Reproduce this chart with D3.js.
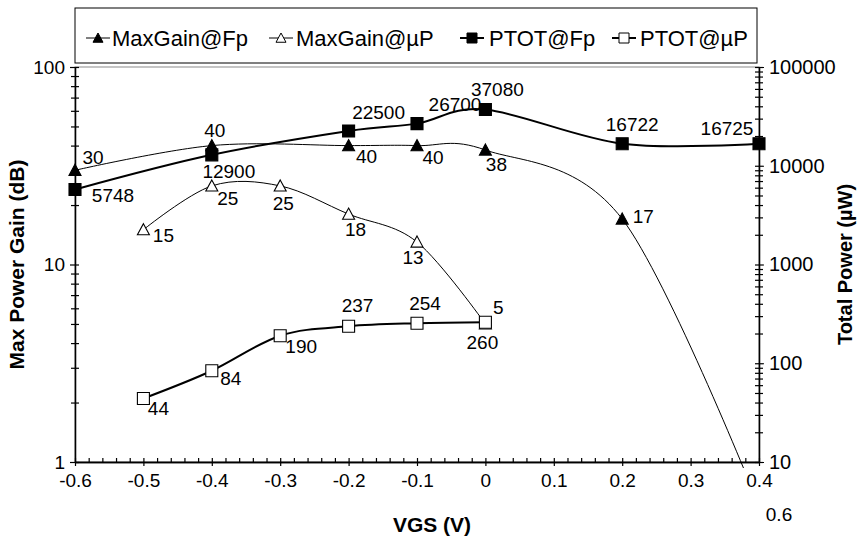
<!DOCTYPE html>
<html>
<head>
<meta charset="utf-8">
<script src="https://cdn.jsdelivr.net/npm/d3@7/dist/d3.min.js"></script>
<style>
  html, body { margin: 0; padding: 0; background: #fff; }
  svg text { font-family: "Liberation Sans", Arial, sans-serif; fill: #000; }
</style>
</head>
<body>
<svg id="chart" width="859" height="540"></svg>
<script>
// ---- data ----
const vgsFp = [-0.6, -0.4, -0.2, -0.1, 0, 0.2, 0.4];
const vgsUP = [-0.5, -0.4, -0.3, -0.2, -0.1, 0];
const maxGainFp = [30, 40, 40, 40, 38, 17, 0.6];
const maxGainUP = [15, 25, 25, 18, 13, 5];
const ptotFp = [5748, 12900, 22500, 26700, 37080, 16722, 16725];
const ptotUP = [44, 84, 190, 237, 254, 260];
const xTicks = [-0.6, -0.5, -0.4, -0.3, -0.2, -0.1, 0, 0.1, 0.2, 0.3, 0.4];
const yLeftTicks = [1, 10, 100];
const yRightTicks = [10, 100, 1000, 10000, 100000];
const seriesNames = ["MaxGain@Fp", "MaxGain@\u00b5P", "PTOT@Fp", "PTOT@\u00b5P"];

// ---- label offsets (dx, dy from each point) ----
const offGainFp = [[18,-13],[3,-15],[18,11],[16,12],[11,14],[21,-3],[20,9]];
const offGainUP = [[20,6],[16,12],[3,17],[7,15],[-4,15],[13,-17]];
const offPtotFp = [[38,6],[17,17],[30,-19],[38,-19],[12,-20],[10,-19],[-32,-15]];
const offPtotUP = [[15,10],[19,8],[21,11],[9,-21],[8,-20],[-3,20]];

// ---- layout ----
const L = 75, R = 759, T = 67, B = 462;
const svg = d3.select("#chart");

const x = d3.scaleLinear().domain([-0.6, 0.4]).range([L, R]);
const yL = d3.scaleLog().domain([1, 100]).range([B, T]);
const yR = d3.scaleLog().domain([10, 100000]).range([B, T]);

function minorLog(lo, hi) {
  const out = [];
  for (let d = lo; d < hi; d *= 10)
    for (let k = 2; k <= 9; k++) out.push(d * k);
  return out;
}

// plot area border
svg.append("rect").attr("x", L).attr("y", T).attr("width", R - L).attr("height", B - T)
  .attr("fill", "none").attr("stroke", "#8c8c8c").attr("stroke-width", 1);

// ---- axes ----
function styleAxis(g, fs) {
  g.select(".domain").attr("stroke", "#000").attr("stroke-width", 1.3);
  g.selectAll(".tick line").attr("stroke", "#000").attr("stroke-width", 1.2);
  g.selectAll(".tick text").attr("font-size", fs)
    .attr("font-family", "'Liberation Sans', Arial, sans-serif").attr("fill", "#000");
}
const plainNum = d => String(+(+d).toFixed(1));

// left axis: minor ticks (crossing) then majors
const gLm = svg.append("g").attr("transform", `translate(${L},0)`)
  .call(d3.axisLeft(yL).tickValues(minorLog(1, 100)).tickFormat("").tickSizeInner(4).tickSizeOuter(0));
gLm.selectAll(".tick line").attr("x2", -4).attr("x1", 4);
styleAxis(gLm, 19);
const gL = svg.append("g").attr("transform", `translate(${L},0)`)
  .call(d3.axisLeft(yL).tickValues(yLeftTicks).tickFormat(plainNum).tickSizeInner(5).tickSizeOuter(0).tickPadding(5));
gL.selectAll(".tick line").attr("x1", 4);
styleAxis(gL, 19);

// right axis
const gRm = svg.append("g").attr("transform", `translate(${R},0)`)
  .call(d3.axisRight(yR).tickValues(minorLog(10, 100000)).tickFormat("").tickSizeInner(4).tickSizeOuter(0));
gRm.selectAll(".tick line").attr("x1", -4);
styleAxis(gRm, 20);
const gR = svg.append("g").attr("transform", `translate(${R},0)`)
  .call(d3.axisRight(yR).tickValues(yRightTicks).tickFormat(plainNum).tickSizeInner(5).tickSizeOuter(0).tickPadding(5));
gR.selectAll(".tick line").attr("x1", -4);
styleAxis(gR, 20);

// bottom axis: minor ticks every 0.02 pointing up, majors crossing
const minorX = d3.range(-30, 21).map(i => i * 0.02).filter(v => Math.abs(Math.round(v * 10) - v * 10) > 1e-6);
const gBm = svg.append("g").attr("transform", `translate(0,${B})`)
  .call(d3.axisBottom(x).tickValues(minorX).tickFormat("").tickSizeInner(4).tickSizeOuter(0));
gBm.selectAll(".tick line").attr("y2", -4);
styleAxis(gBm, 19);
const gB = svg.append("g").attr("transform", `translate(0,${B})`)
  .call(d3.axisBottom(x).tickValues(xTicks).tickFormat(plainNum).tickSizeInner(4).tickSizeOuter(0).tickPadding(8));
gB.selectAll(".tick line").attr("y1", -4);
styleAxis(gB, 19);

// axis titles
svg.append("text").attr("x", 432).attr("y", 532).attr("text-anchor", "middle")
  .attr("font-size", 21).attr("font-weight", "bold").text("VGS (V)");
svg.append("text").attr("transform", `translate(24,${(T + B) / 2}) rotate(-90)`)
  .attr("text-anchor", "middle").attr("font-size", 21).attr("font-weight", "bold")
  .text("Max Power Gain (dB)");
svg.append("text").attr("transform", `translate(852,${(T + B) / 2}) rotate(-90)`)
  .attr("text-anchor", "middle").attr("font-size", 20).attr("font-weight", "bold")
  .text("Total Power (\u00b5W)");

// ---- series ----
const clipId = "plotclip";
svg.append("clipPath").attr("id", clipId).append("rect")
  .attr("x", L - 2).attr("y", T - 2).attr("width", R - L + 4).attr("height", B - T + 8);

const smooth = d3.curveCardinal.tension(0);

function triPath(s) { return `M0,${-s}L${s},${s * 0.85}L${-s},${s * 0.85}Z`; }
function sqPath(s) { return `M${-s},${-s}H${s}V${s}H${-s}Z`; }

function drawSeries(xs, vals, yScale, opt) {
  const [lo, hi] = yScale.domain();
  const pts = xs.map((v, i) => ({ x: x(v), y: yScale(vals[i]), v: vals[i], inside: vals[i] >= lo && vals[i] <= hi }));
  const line = d3.line().x(d => d.x).y(d => d.y).curve(smooth);
  svg.append("path").attr("d", line(pts)).attr("fill", "none")
    .attr("stroke", "#000").attr("stroke-width", opt.lw).attr("clip-path", `url(#${clipId})`);
  const g = svg.append("g");
  pts.filter(p => p.inside).forEach(p => {
    g.append("path").attr("d", opt.shape === "tri" ? triPath(6) : sqPath(6))
      .attr("transform", `translate(${p.x},${p.y})`)
      .attr("fill", opt.filled ? "#000" : "#fff").attr("stroke", "#000").attr("stroke-width", 1.1);
  });
  return pts;
}

// data labels; a point below the axis keeps its label inside the chart area
function drawLabels(pts, offsets) {
  pts.forEach((p, i) => {
    const ly = Math.min(p.y, B + 45) + offsets[i][1];
    svg.append("text").attr("x", p.x + offsets[i][0]).attr("y", ly)
      .attr("dy", "0.35em").attr("text-anchor", "middle").attr("font-size", 19)
      .text(String(p.v));
  });
}

const pGainFp = drawSeries(vgsFp, maxGainFp, yL, { lw: 1, shape: "tri", filled: true });
const pGainUP = drawSeries(vgsUP, maxGainUP, yL, { lw: 1, shape: "tri", filled: false });
const pPtotFp = drawSeries(vgsFp, ptotFp, yR, { lw: 2, shape: "sq", filled: true });
const pPtotUP = drawSeries(vgsUP, ptotUP, yR, { lw: 2, shape: "sq", filled: false });

drawLabels(pGainFp, offGainFp);
drawLabels(pGainUP, offGainUP);
drawLabels(pPtotFp, offPtotFp);
drawLabels(pPtotUP, offPtotUP);

// ---- legend ----
const lg = svg.append("g");
lg.append("rect").attr("x", 75).attr("y", 8).attr("width", 682).attr("height", 55)
  .attr("fill", "#fff").attr("stroke", "#000").attr("stroke-width", 1);
const legendItems = [
  { cx: 98, tx: 112, lw: 1, shape: "tri", filled: true },
  { cx: 281, tx: 296, lw: 1, shape: "tri", filled: false },
  { cx: 472, tx: 489, lw: 2, shape: "sq", filled: true },
  { cx: 624, tx: 640, lw: 2, shape: "sq", filled: false }
];
const legY = 38;
legendItems.forEach((it, i) => {
  lg.append("line").attr("x1", it.cx - 12).attr("x2", it.cx + 12).attr("y1", legY).attr("y2", legY)
    .attr("stroke", "#000").attr("stroke-width", it.lw);
  lg.append("path").attr("d", it.shape === "tri" ? triPath(5) : sqPath(5))
    .attr("transform", `translate(${it.cx},${legY})`)
    .attr("fill", it.filled ? "#000" : "#fff").attr("stroke", "#000").attr("stroke-width", 1);
  lg.append("text").attr("x", it.tx).attr("y", legY).attr("dy", "0.35em")
    .attr("font-size", 22).text(seriesNames[i]);
});
</script>
</body>
</html>
